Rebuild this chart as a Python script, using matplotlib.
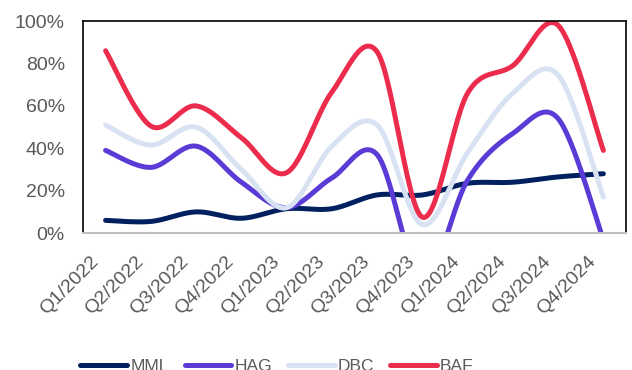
import numpy as np
import matplotlib
matplotlib.use("Agg")
import matplotlib.pyplot as plt
import matplotlib.transforms as mtransforms
from matplotlib.ticker import PercentFormatter

quarters = ["Q1/2022", "Q2/2022", "Q3/2022", "Q4/2022",
            "Q1/2023", "Q2/2023", "Q3/2023", "Q4/2023",
            "Q1/2024", "Q2/2024", "Q3/2024", "Q4/2024"]

mml = [0.06, 0.055, 0.10, 0.07, 0.115, 0.115, 0.18, 0.18, 0.235, 0.24, 0.265, 0.28]
hag = [0.39, 0.31, 0.41, 0.24, 0.12, 0.26, 0.37, -0.22, 0.25, 0.47, 0.54, -0.03]
dbc = [0.51, 0.415, 0.50, 0.30, 0.12, 0.41, 0.51, 0.04, 0.38, 0.66, 0.745, 0.17]
baf = [0.86, 0.505, 0.60, 0.45, 0.285, 0.665, 0.855, 0.075, 0.66, 0.79, 0.98, 0.39]

series = {"MML": mml, "HAG": hag, "DBC": dbc, "BAF": baf}
colors = {"MML": "#002060", "HAG": "#5B3BD6", "DBC": "#D9E2F3", "BAF": "#EC2C4C"}


def smooth(x, y, n=30):
    # catmull-rom style smoothing like Excel's "smoothed line"
    x = np.asarray(x, float)
    y = np.asarray(y, float)
    px = np.concatenate([[x[0]], x, [x[-1]]])
    py = np.concatenate([[y[0]], y, [y[-1]]])
    xs, ys = [], []
    t = np.linspace(0, 1, n)
    for i in range(1, len(px) - 2):
        p0, p1, p2, p3 = (np.array([px[j], py[j]]) for j in range(i - 1, i + 3))
        c1 = p1 + (p2 - p0) / 6
        c2 = p2 - (p3 - p1) / 6
        pts = ((1 - t) ** 3)[:, None] * p1 + (3 * (1 - t) ** 2 * t)[:, None] * c1 \
            + (3 * (1 - t) * t ** 2)[:, None] * c2 + (t ** 3)[:, None] * p2
        xs.append(pts[:, 0])
        ys.append(pts[:, 1])
    return np.concatenate(xs), np.concatenate(ys)


plt.rcParams['font.family'] = ['Liberation Sans', 'DejaVu Sans']

fig = plt.figure(figsize=(6.32, 3.70), dpi=100)
ax = fig.add_axes([0.1313, 0.37, 0.8592, 0.573])

x = np.arange(len(quarters))
for name, vals in series.items():
    sx, sy = smooth(x, vals)
    ax.plot(sx, sy, color=colors[name], lw=3.6, solid_capstyle='round', label=name)

ax.set_xlim(-0.5, len(quarters) - 0.5)
ax.set_ylim(0, 1.0)
ax.set_yticks(np.arange(0, 1.01, 0.2))
ax.yaxis.set_major_formatter(PercentFormatter(1.0, decimals=0))
ax.set_xticks(x)
ax.set_xticklabels(quarters, rotation=45, ha='right', rotation_mode='anchor')
ax.tick_params(length=0, labelsize=14, colors='#595959')
ax.tick_params(axis='y', pad=13)
ax.tick_params(axis='x', pad=14)
shift = mtransforms.ScaledTranslation(-0.16, 0, fig.dpi_scale_trans)
for lab in ax.get_xticklabels():
    lab.set_transform(lab.get_transform() + shift)

for side in ['top', 'left', 'right']:
    ax.spines[side].set_color('black')
    ax.spines[side].set_linewidth(1.2)
ax.spines['bottom'].set_color('#BFBFBF')
ax.spines['bottom'].set_linewidth(1.5)

handles, labels = ax.get_legend_handles_labels()
leg = fig.legend(handles, labels, loc='center', bbox_to_anchor=(277 / 632, 1 - 366 / 370),
                 ncol=4, frameon=False, fontsize=12.5, handlelength=2.7,
                 handletextpad=0.18, columnspacing=0.9)
for t in leg.get_texts():
    t.set_color('#595959')

fig.savefig("out.png", dpi=100)
